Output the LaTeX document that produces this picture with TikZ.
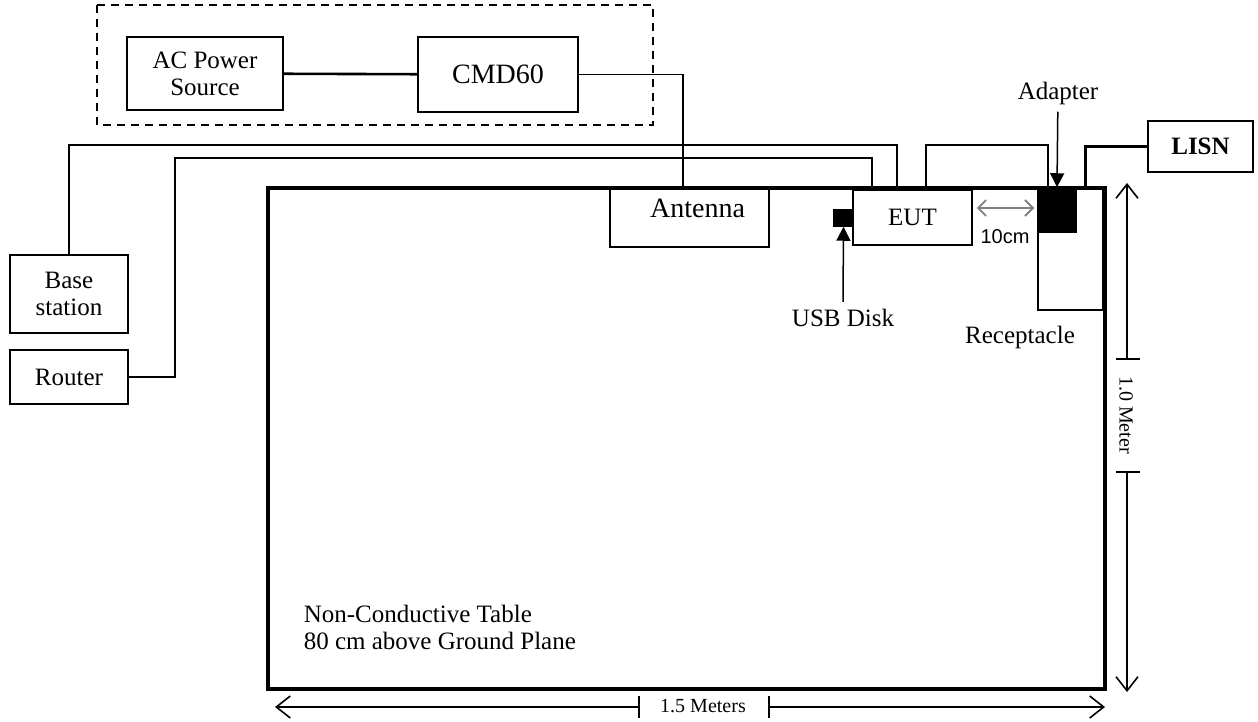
\documentclass[tikz,border=0pt]{standalone}
\usepackage{fontspec}
\setmainfont{Liberation Serif}
\newfontfamily\arialfont{Liberation Sans}
\usetikzlibrary{arrows.meta}

\begin{document}
\begin{tikzpicture}[x=0.5pt,y=-0.5pt,line width=0.75pt,
                    box/.style={draw,inner sep=0pt,align=center,font=\fontsize{12.5}{13.5}\selectfont},
                    blk/.style={draw,fill=black,inner sep=0pt},
                    lab/.style={font=\fontsize{12.5}{13.5}\selectfont},
                    dim/.style={line width=0.8pt,-{Straight Barb[length=7pt,width=11pt]}},
                    tip/.style={-{Triangle[length=7pt,width=7pt]}}]
                        \useasboundingbox (0,0) rectangle (1258,722);
                        % test equipment
                        \draw[dashed,dash pattern=on 4pt off 3pt] (97,5) rectangle (653,125);
                        \node[box,minimum width=78pt,minimum height=36.5pt] (1) at (205,73.5) {AC Power\\Source};
                        \node[box,minimum width=80pt,minimum height=37.5pt,font=\fontsize{14}{16}\selectfont] (2) at (498,74.5) {CMD60};
                        % table and what stands on it
                        \node[draw,line width=1.6pt,inner sep=0pt,minimum width=418.5pt,minimum height=250.5pt] (3) at (686.5,438.5) {};
                        \node[box,minimum width=79.5pt,minimum height=29.5pt,font=\fontsize{14}{16}\selectfont,text depth=9pt,text width=79.5pt,align=center] (4) at (689.5,217.5) {\hspace*{8pt}Antenna};
                        \node[box,minimum width=59.5pt,minimum height=27.5pt] (5) at (912.5,217.5) {EUT};
                        \node[blk,minimum width=9.5pt,minimum height=8pt] (6) at (843.5,218) {};
                        \node[draw,inner sep=0pt,minimum width=32.5pt,minimum height=61pt] (7) at (1070.5,249) {};
                        \node[blk,minimum width=19pt,minimum height=22pt] (8) at (1057,210) {};
                        \node[box,minimum width=52.5pt,minimum height=25.5pt,font=\bfseries\fontsize{12.5}{14}\selectfont] (9) at (1200.5,146.5) {LISN};
                        \node[box,minimum width=59pt,minimum height=39pt] (10) at (69,294) {Base\\station};
                        \node[box,minimum width=59pt,minimum height=27pt] (11) at (69,377) {Router};
                        % labels
                        \node[lab] (12) at (1058,93) {Adapter};
                        \node[lab] (13) at (843,318) {USB Disk};
                        \node[lab] (14) at (1020,337) {Receptacle};
                        \node[font=\arialfont\fontsize{10}{12}\selectfont] (15) at (1005,237) {10cm};
                        \node[lab,anchor=west,inner sep=0pt,align=left] (16) at (303,627) {Non-Conductive Table\\80 cm above Ground Plane};
                        % cables
                        \draw[line width=1.3pt] (1) to (2);
                        \draw (2.east) -| ([xshift=-3.25pt]4.north);
                        \draw (10.north) |- (897,145) -- ([xshift=-7.75pt]5.north);
                        \draw (11.east) -| (175,158) -| ([xshift=-20.25pt]5.north);
                        \draw ([xshift=6.75pt]5.north) |- (1048,145) -- ([xshift=-4.5pt]8.north);
                        \draw[line width=1.5pt] ([xshift=7.25pt]7.north) |- (9.west);
                        \draw[tip] (12) to (8.north);
                        \draw[tip] (13.north) to (6.south);
                        \draw[gray,line width=0.9pt,{Straight Barb[length=4pt,width=8pt]}-{Straight Barb[length=4pt,width=8pt]}] ([xshift=2pt,yshift=4.75pt]5.east) to ([xshift=-1.5pt,yshift=1pt]8.west);
                        % dimensions
                        \node[rotate=-90,font=\fontsize{10}{12}\selectfont] (17) at (1126,415) {1.0 Meter};
                        \node[font=\fontsize{10}{12}\selectfont] (18) at (703,706) {1.5 Meters};
                        \coordinate (19) at (1127,183);
                        \coordinate (20) at (1127,692);
                        \coordinate (21) at (275,707);
                        \coordinate (22) at (1105,707);
                        \draw[dim] (1127,359) -- (19);
                        \draw[dim] (1127,472) -- (20);
                        \draw[dim] (639,707) -- (21);
                        \draw[dim] (769,707) -- (22);
                        \draw (1116,359) -- (1140,359);
                        \draw (1116,472) -- (1140,472);
                        \draw (639,696) -- (639,718);
                        \draw (769,696) -- (769,718);
                  \end{tikzpicture}
\end{document}
